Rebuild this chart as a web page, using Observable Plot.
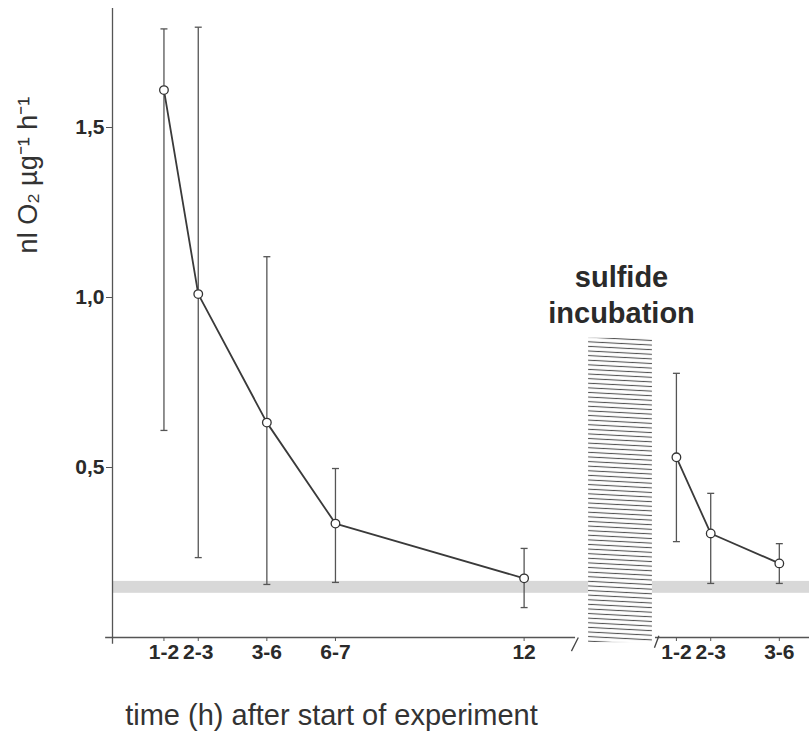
<!DOCTYPE html>
<html>
<head>
<meta charset="utf-8">
<script src="https://cdn.jsdelivr.net/npm/d3@7"></script>
<script src="https://cdn.jsdelivr.net/npm/@observablehq/plot@0.6"></script>
<style>
  html, body { margin: 0; padding: 0; background: #fff; }
</style>
</head>
<body>
<div id="chart"></div>
<script>
// ---- Data ----
// Before sulfide incubation
const leftLabels = ["1-2", "2-3", "3-6", "6-7", "12"];
const leftTime   = [1.5, 2.5, 4.5, 6.5, 12];
const leftMean   = [1.61, 1.01, 0.632, 0.335, 0.174];
const leftUpper  = [1.79, 1.795, 1.12, 0.497, 0.262];
const leftLower  = [0.609, 0.235, 0.156, 0.162, 0.088];
// After sulfide incubation
const rightLabels = ["1-2", "2-3", "3-6"];
const rightTime   = [1.5, 2.5, 4.5];
const rightMean   = [0.53, 0.306, 0.218];
const rightUpper  = [0.777, 0.424, 0.276];
const rightLower  = [0.282, 0.159, 0.159];

// y ticks
const yTickValues = [0.5, 1.0, 1.5];
const yTickLabels = ["0,5", "1,0", "1,5"];

// background band (detection level)
const bandLow = 0.13;
const bandHigh = 0.165;

// layout of the broken time axis (in axis hours)
const rightOffset = 14.94;       // where the second panel's time starts
const xMax = 20.32;
const yMax = 1.85;
const leftAxisEnd = 13.5;
const rightAxisStart = 15.83;
const incubation = {x1: 13.88, x2: 15.74, y1: -0.015, y2: 0.88};
const incubationLabel = "sulfide\nincubation";
const incubationLabelPos = {x: 14.84, y: 0.924};

const yLabel = "nl O\u2082 \u00b5g\u207b\u00b9 h\u207b\u00b9";
const yLabelPos = 1.36;
const xLabel = "time (h) after start of experiment";

// ---- Build table ----
const rows = [
  ...leftLabels.map((lab, i) => ({panel: "before", label: lab, t: leftTime[i], mean: leftMean[i], hi: leftUpper[i], lo: leftLower[i]})),
  ...rightLabels.map((lab, i) => ({panel: "after", label: lab, t: rightTime[i] + rightOffset, mean: rightMean[i], hi: rightUpper[i], lo: rightLower[i]}))
];
const tickMap = new Map(rows.map(d => [d.t, d.label]));

const capSymbol = {
  draw(ctx) { ctx.moveTo(-3.5, 0); ctx.lineTo(3.5, 0); }
};

const font = "'Liberation Sans', Arial, Helvetica, sans-serif";
const ink = "#333";

const plot = Plot.plot({
  width: 809,
  height: 733,
  marginLeft: 112,
  marginRight: 0,
  marginTop: 8,
  marginBottom: 96,
  style: {fontFamily: font, color: ink, background: "#fff", overflow: "visible"},
  x: {domain: [0, xMax], axis: null},
  y: {domain: [0, yMax], axis: null},
  marks: [
    // grey band
    Plot.rectY([{y1: bandLow, y2: bandHigh}], {x1: 0, x2: xMax, y1: "y1", y2: "y2", fill: "#d8d8d8"}),
    // hatched incubation box
    Plot.rect([incubation], {x1: "x1", x2: "x2", y1: "y1", y2: "y2", fill: "#fff"}),
    Plot.rect([incubation], {x1: "x1", x2: "x2", y1: "y1", y2: "y2", fill: "url(#hatch)"}),
    Plot.text([incubationLabel], {x: incubationLabelPos.x, y: incubationLabelPos.y, lineAnchor: "bottom", lineHeight: 1.24,
      fontSize: 29, fontWeight: "bold", fill: "#2a2a2a", textAnchor: "middle"}),
    // y axis line
    Plot.ruleX([0], {y1: -0.02, y2: yMax, stroke: "#555", strokeWidth: 1.3}),
    // x axis lines (broken)
    Plot.ruleY([0], {x1: -0.2, x2: leftAxisEnd, stroke: "#555", strokeWidth: 1.3}),
    Plot.ruleY([0], {x1: rightAxisStart, x2: xMax, stroke: "#555", strokeWidth: 1.3}),
    // break slashes
    Plot.link([{x1: leftAxisEnd - 0.12, y1: -0.04, x2: leftAxisEnd + 0.08, y2: 0.0}], {x1: "x1", y1: "y1", x2: "x2", y2: "y2", stroke: "#444", strokeWidth: 1.3}),
    Plot.link([{x1: rightAxisStart - 0.03, y1: -0.03, x2: rightAxisStart + 0.1, y2: 0.005}], {x1: "x1", y1: "y1", x2: "x2", y2: "y2", stroke: "#444", strokeWidth: 1.3}),
    // axes
    Plot.axisY({ticks: yTickValues, tickFormat: d => yTickLabels[yTickValues.indexOf(d)], tickSize: 6, tickPadding: 2,
      fontSize: 21, fontWeight: "bold", fill: "#2a2a2a", stroke: "#555", label: null}),
    Plot.axisX({ticks: rows.map(d => d.t), tickFormat: d => tickMap.get(d), tickSize: 4, tickPadding: 3,
      fontSize: 21, fontWeight: "bold", fill: "#2a2a2a", stroke: "#555", label: null}),
    // error bars
    Plot.link(rows, {x1: "t", x2: "t", y1: "lo", y2: "hi", stroke: "#555", strokeWidth: 1.3}),
    Plot.dot(rows, {x: "t", y: "hi", symbol: capSymbol, stroke: "#555", strokeWidth: 1.3, r: 3}),
    Plot.dot(rows, {x: "t", y: "lo", symbol: capSymbol, stroke: "#555", strokeWidth: 1.3, r: 3}),
    // connecting lines
    Plot.line(rows, {x: "t", y: "mean", z: "panel", stroke: "#3a3a3a", strokeWidth: 1.8}),
    // points
    Plot.dot(rows, {x: "t", y: "mean", r: 4.3, fill: "#fff", stroke: "#333", strokeWidth: 1.3}),
    // axis titles
    Plot.text([yLabel], {x: 0, y: yLabelPos, dx: -84, rotate: -90, fontSize: 27, fill: "#333", textAnchor: "middle"}),
    Plot.text([xLabel], {x: 0, y: 0, frameAnchor: "bottom", dx: 219, dy: 87, fontSize: 29, fill: "#333", textAnchor: "middle", lineAnchor: "bottom"})
  ]
});

d3.select(plot).insert("defs", ":first-child").html(
  `<pattern id="hatch" patternUnits="userSpaceOnUse" width="12" height="4.6" patternTransform="rotate(3)">
     <line x1="0" y1="2.3" x2="12" y2="2.3" stroke="#555" stroke-width="1.1"/>
   </pattern>`
);

document.getElementById("chart").appendChild(plot);
</script>
</body>
</html>
